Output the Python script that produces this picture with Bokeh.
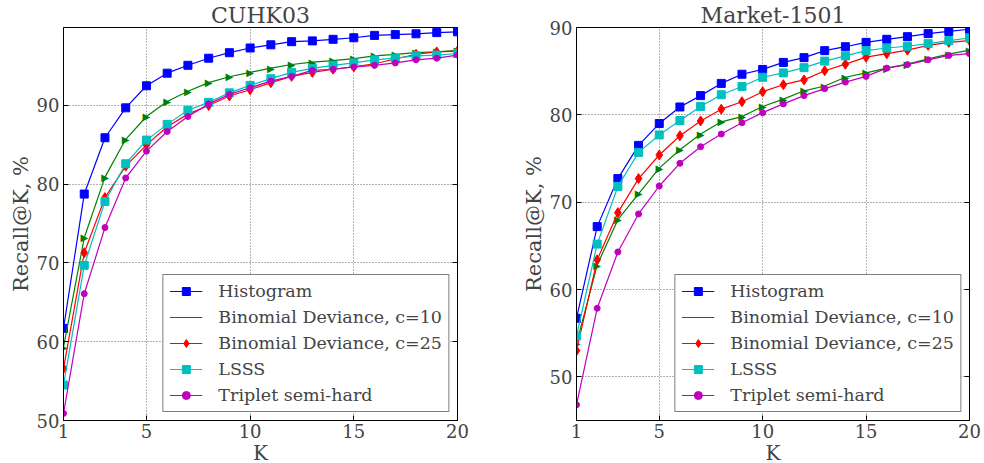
import math
from bokeh.plotting import figure
from bokeh.layouts import row
from bokeh.models import FixedTicker, Legend, LegendItem, LinearAxis, CustomJSTickFormatter
from bokeh.core.properties import value
from bokeh.embed import file_html
from bokeh.resources import INLINE

K = list(range(1, 21))
x_ticks = [1, 5, 10, 15, 20]
y_ticks = [50, 60, 70, 80, 90]
names = ["Histogram", "Binomial Deviance, c=10", "Binomial Deviance, c=25", "LSSS", "Triplet semi-hard"]

cuhk_hist = [61.7, 78.75, 85.9, 89.7, 92.5, 94.1, 95.1, 96.0, 96.7, 97.3, 97.7, 98.1, 98.2, 98.4, 98.6, 98.9, 99.0, 99.1, 99.25, 99.35]
cuhk_bd10 = [59.3, 73.2, 80.9, 85.7, 88.6, 90.5, 91.8, 92.9, 93.65, 94.2, 94.75, 95.2, 95.5, 95.7, 95.95, 96.3, 96.5, 96.7, 96.8, 97.0]
cuhk_bd25 = [56.6, 71.3, 78.3, 82.3, 85.0, 87.3, 88.9, 90.0, 91.2, 92.0, 92.9, 93.7, 94.2, 94.6, 94.9, 95.3, 95.9, 96.5, 96.8, 96.9]
cuhk_lsss = [54.5, 69.7, 77.8, 82.6, 85.6, 87.6, 89.4, 90.4, 91.6, 92.55, 93.4, 94.2, 94.7, 95.1, 95.4, 95.8, 96.0, 96.3, 96.4, 96.6]
cuhk_trip = [50.9, 66.1, 74.5, 80.8, 84.2, 86.7, 88.6, 90.2, 91.4, 92.25, 93.1, 93.7, 94.45, 94.6, 94.9, 95.1, 95.4, 95.8, 96.0, 96.4]

mkt_hist = [56.7, 67.2, 72.7, 76.5, 79.0, 80.9, 82.2, 83.6, 84.65, 85.2, 86.0, 86.55, 87.35, 87.8, 88.3, 88.65, 88.95, 89.3, 89.55, 89.8]
mkt_bd10 = [53.8, 62.8, 68.0, 70.95, 73.9, 76.0, 77.8, 79.2, 79.8, 80.95, 81.8, 82.75, 83.3, 84.3, 84.8, 85.35, 85.8, 86.4, 86.95, 87.4]
mkt_bd25 = [53.0, 63.4, 68.8, 72.7, 75.4, 77.6, 79.3, 80.65, 81.5, 82.65, 83.45, 84.0, 85.05, 85.8, 86.6, 87.0, 87.4, 87.95, 88.3, 88.5]
mkt_lsss = [54.7, 65.2, 71.8, 75.7, 77.7, 79.35, 80.95, 82.3, 83.25, 84.3, 84.8, 85.4, 86.15, 86.75, 87.35, 87.65, 87.85, 88.15, 88.5, 88.8]
mkt_trip = [46.8, 57.85, 64.3, 68.65, 71.85, 74.45, 76.35, 77.8, 79.1, 80.25, 81.25, 82.2, 83.0, 83.75, 84.4, 85.35, 85.75, 86.3, 86.8, 87.0]

colors = ["#0000ff", "#008000", "#ff0000", "#00bfbf", "#bf00bf"]
markers = ["square", "arrow", "diamond", "square", "circle"]
sizes = [8, 9, 10, 8, 6]

FONT = "DejaVu Serif"


def style_axis(ax, label_size="18px"):
    ax.major_label_text_font = FONT
    ax.major_label_text_font_size = label_size
    ax.axis_label_text_font = FONT
    ax.axis_label_text_font_size = "21px"
    ax.axis_label_text_font_style = "normal"
    ax.major_tick_in = 5
    ax.major_tick_out = 0
    ax.minor_tick_in = 0
    ax.minor_tick_out = 0
    ax.major_label_standoff = 4
    ax.axis_label_standoff = 1
    ax.axis_line_color = "black"


def make(title, series, y_range, fw, left, right):
    p = figure(frame_width=fw, frame_height=393, x_range=(1, 20), y_range=y_range,
               output_backend="svg", toolbar_location=None,
               min_border_left=left, min_border_right=right,
               min_border_top=0, min_border_bottom=0)
    p.title.text = title
    p.title.text_font = FONT
    p.title.text_font_size = "22px"
    p.title.text_font_style = "normal"
    p.title.align = "center"
    p.title.standoff = 0
    p.outline_line_color = "black"
    p.outline_line_width = 1
    p.outline_line_alpha = 1
    style_axis(p.xaxis[0])
    style_axis(p.yaxis[0])
    p.xaxis[0].major_label_standoff = 3
    p.xaxis[0].axis_label_standoff = 0
    p.xaxis[0].axis_label_text_font_size = "20px"
    p.xaxis.ticker = FixedTicker(ticks=x_ticks)
    p.yaxis.ticker = FixedTicker(ticks=y_ticks)
    p.xaxis.axis_label = "K"
    p.yaxis.axis_label = "Recall@K, %"
    ax_r = LinearAxis(ticker=FixedTicker(ticks=y_ticks),
                      formatter=CustomJSTickFormatter(code="return ''"))
    style_axis(ax_r)
    ax_r.major_label_standoff = 0
    p.add_layout(ax_r, "right")
    p.grid.grid_line_color = "black"
    p.grid.grid_line_alpha = 0.6
    p.grid.grid_line_dash = "1 2"
    p.grid.grid_line_width = 1
    items = []
    for name, ys, c, m, s in zip(names, series, colors, markers, sizes):
        r1 = p.line(K, ys, line_color=c, line_width=1.2)
        if m == "arrow":
            r2 = p.text(x=K, y=ys, text=["\u25B6"] * len(K), text_font=value("DejaVu Sans"),
                        text_font_size="10px", text_color=c, text_align="center",
                        text_baseline="middle")
        else:
            r2 = p.scatter(x=K, y=ys, marker=m, size=s, fill_color=c, line_color=c)
        items.append(LegendItem(label=name, renderers=[r1, r2]))
    leg = Legend(items=items, location="bottom_right")
    leg.label_text_font = FONT
    leg.label_text_font_size = "17.5px"
    leg.glyph_width = 33
    leg.glyph_height = 20
    leg.label_height = 20
    leg.label_standoff = 16
    leg.spacing = 6
    leg.padding = 6
    leg.margin = 8
    leg.border_line_color = "black"
    leg.border_line_width = 1
    leg.background_fill_alpha = 1
    p.add_layout(leg, "center")
    return p


p1 = make("CUHK03", [cuhk_hist, cuhk_bd10, cuhk_bd25, cuhk_lsss, cuhk_trip], (50, 99.9), 394, 63, 61)
p2 = make("Market-1501", [mkt_hist, mkt_bd10, mkt_bd25, mkt_lsss, mkt_trip], (45, 90), 393, 58, 12)
layout = row(p1, p2)

open("out.html", "w").write(file_html(layout, INLINE))
